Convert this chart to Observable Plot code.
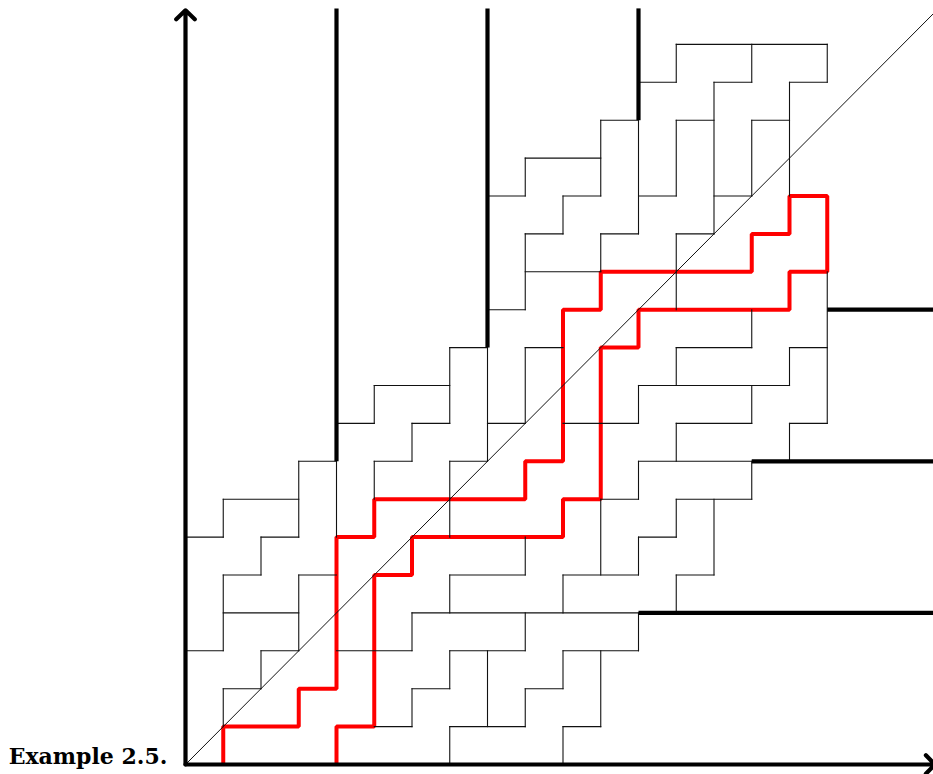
<!DOCTYPE html>
<html><head><meta charset="utf-8">
<script src="https://cdn.jsdelivr.net/npm/d3@7"></script>
<script src="https://cdn.jsdelivr.net/npm/@observablehq/plot@0.6"></script>
<style>body{margin:0;background:#fff} #chart svg{display:block}</style>
</head><body><div id="chart"></div>
<script>
// thin tile boundaries [x1,y1,x2,y2] in grid units
const thinSegments = [
[0,6,1,6],[1,6,1,7],[1,7,3,7],[2,6,3,6],[3,6,3,8],[3,8,4,8],[2,5,2,6],[1,5,2,5],[1,3,1,5],[1,4,3,4],[0,3,1,3],[3,3,3,5],[3,5,4,5],[4,6,4,8],[2,3,3,3],[2,2,2,3],[1,2,2,2],[1,1,1,2],[4,3,6,3],[6,3,6,4],[6,4,12,4],[6,1,6,2],[6,2,7,2],[5,1,6,1],
[7,6,7,8],[11,5,11,7],[10,5,12,5],[12,5,12,6],[12,6,13,6],[9,5,9,6],[7,5,9,5],[7,4,7,5],[10,4,10,5],[9,3,9,4],[7,3,9,3],[7,2,7,3],[8,1,8,3],[7,1,9,1],[7,0,7,1],[9,1,9,2],[9,2,10,2],[10,2,10,3],[10,3,12,3],[12,3,12,4],[11,1,11,3],[10,1,11,1],[10,0,10,1],
[13,6,13,7],[14,5,14,7],[13,5,14,5],[13,4,13,5],
[4,9,5,9],[5,9,5,10],[5,10,7,10],[6,9,7,9],[6,8,6,9],[5,8,6,8],[5,7,5,8],
[8,8,8,11],[9,12,9,14],[8,12,9,12],[11,13,11,14],[9,13,11,13],[7,11,8,11],[7,9,7,11],[9,9,9,11],[9,11,10,11],[8,9,9,9],[7,8,8,8],[10,9,12,9],[12,9,12,10],[12,10,16,10],[12,7,12,8],[12,8,15,8],[11,7,12,7],
[13,12,13,14],[17,9,17,13],[15,11,15,12],[13,11,15,11],[13,10,13,11],[16,10,16,11],[16,11,17,11],[15,9,15,10],[13,9,15,9],[13,8,13,9],[16,8,16,9],[16,9,17,9],[13,7,15,7],[15,7,15,8],
[12,14,12,17],[12,18,13,18],[11,17,12,17],[11,15,11,17],[9,16,11,16],[9,15,9,16],[8,15,9,15],[10,15,11,15],[10,14,10,15],[9,14,10,14],[12,15,13,15],[11,14,12,14],
[13,18,13,19],[13,19,17,19],[17,18,17,19],[16,18,17,18],[16,15,16,18],[15,17,16,17],[15,15,15,17],[14,15,15,15],[15,18,15,19],[14,18,15,18],[14,14,14,18],[13,14,14,14],[13,17,14,17],[13,15,13,17]
];
// thick boundary lines
const thickSegments = [
[4,8,4,19.95],[8,11,8,19.95],[12,17,12,19.95],
[12,4,20,4],[15,8,20,8],[17,12,20,12]
];
// red lattice path
const redPath = [
[1,0],[1,1],[3,1],[3,2],[4,2],[4,6],[5,6],[5,7],[9,7],[9,8],[10,8],[10,12],[11,12],[11,13],[15,13],[15,14],[16,14],[16,15],[17,15],
[17,13],[16,13],[16,12],[12,12],[12,11],[11,11],[11,7],[10,7],[10,6],[6,6],[6,5],[5,5],[5,1],[4,1],[4,0]
];
const diagonal = [[0,0,20,20]];
const axisArrows = [[0,0,0,19.9],[0,0,19.85,0]];
const labels = [{x:-0.48, y:0.2, text:"Example 2.5."}];

const seg = a => a.map(([x1,y1,x2,y2]) => ({x1,y1,x2,y2}));
const L = {x1:"x1",y1:"y1",x2:"x2",y2:"y2"};
const chart = Plot.plot({
  width:933, height:774,
  x:{domain:[0,20], range:[185,940], axis:null},
  y:{domain:[0,20], range:[764,6], axis:null},
  style:{background:"#fff"},
  marks:[
    Plot.line(redPath, {x:d=>d[0], y:d=>d[1], stroke:"#ff0000", strokeWidth:4, strokeLinejoin:"miter", strokeLinecap:"butt"}),
    Plot.link(seg(thinSegments), {...L, stroke:"#111", strokeWidth:1.1, strokeLinecap:"square"}),
    Plot.link(seg(diagonal), {...L, stroke:"#111", strokeWidth:1}),
    Plot.link(seg(thickSegments), {...L, stroke:"#000", strokeWidth:4.2, strokeLinecap:"butt"}),
    Plot.arrow(seg(axisArrows), {...L, stroke:"#000", strokeWidth:4.2, headAngle:92, headLength:4.6}),
    Plot.text(labels, {x:"x", y:"y", text:"text", textAnchor:"end", lineAnchor:"middle", fontSize:22, fontWeight:"bold", fontFamily:"DejaVu Serif", fill:"#000"})
  ]
});
document.getElementById("chart").append(chart);
</script>
</body></html>
